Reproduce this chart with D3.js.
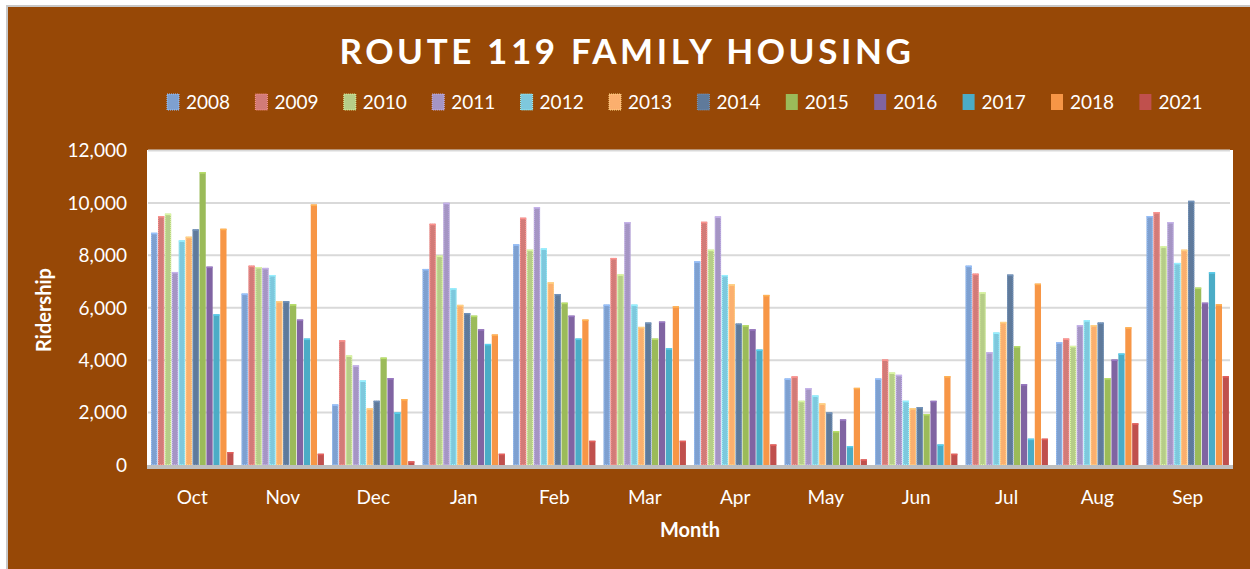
<!DOCTYPE html>
<html>
<head>
<meta charset="utf-8">
<script src="https://cdn.jsdelivr.net/npm/d3@7"></script>
<style>
  body { margin: 0; background: #fff; }
  text { font-family: Lato, "Open Sans", sans-serif; fill: #fff; }
</style>
</head>
<body>
<div id="chart"></div>
<script>
  // months on the x axis (fiscal year order)
  var months = ["Oct", "Nov", "Dec", "Jan", "Feb", "Mar", "Apr", "May", "Jun", "Jul", "Aug", "Sep"];
  var years = ["2008", "2009", "2010", "2011", "2012", "2013", "2014", "2015", "2016", "2017", "2018", "2021"];
  var colors = ["#7ea0d0", "#d27b78", "#b6cd88", "#a595c4", "#7ec8dd", "#fbaf6e", "#5f7a9b",
                "#9bbb59", "#8064a2", "#4bacc6", "#f79646", "#c0504d"];
  var yTicks = [0, 2000, 4000, 6000, 8000, 10000, 12000];

  // ridership per year, one value per month (Oct..Sep)
  var r2008 = [8860, 6540, 2310, 7480, 8420, 6120, 7770, 3300, 3300, 7605, 4685, 9500];
  var r2009 = [9500, 7605, 4760, 9205, 9435, 7900, 9280, 3380, 4025, 7300, 4825, 9650];
  var r2010 = [9590, 7555, 4180, 7990, 8215, 7275, 8215, 2450, 3530, 6590, 4545, 8345];
  var r2011 = [7365, 7520, 3800, 10005, 9840, 9270, 9485, 2935, 3440, 4305, 5335, 9270];
  var r2012 = [8570, 7250, 3225, 6745, 8265, 6120, 7250, 2655, 2450, 5055, 5525, 7710];
  var r2013 = [8710, 6250, 2160, 6110, 6970, 5270, 6895, 2350, 2170, 5460, 5335, 8215];
  var r2014 = [8990, 6250, 2450, 5800, 6525, 5435, 5395, 2005, 2210, 7265, 5435, 10080];
  var r2015 = [11175, 6135, 4100, 5700, 6195, 4825, 5335, 1295, 1945, 4535, 3315, 6770];
  var r2016 = [7570, 5550, 3315, 5180, 5700, 5475, 5180, 1740, 2450, 3085, 4025, 6195];
  var r2017 = [5750, 4825, 2005, 4620, 4825, 4455, 4405, 725, 785, 1005, 4255, 7355];
  var r2018 = [9015, 9940, 2515, 4980, 5550, 6055, 6490, 2945, 3390, 6920, 5255, 6135];
  var r2021 = [495, 430, 140, 430, 925, 925, 785, 215, 430, 1005, 1590, 3390];
  var series = [r2008, r2009, r2010, r2011, r2012, r2013, r2014, r2015, r2016, r2017, r2018, r2021];

  var W = 1250, H = 569;
  var svg = d3.select("#chart").append("svg").attr("width", W).attr("height", H);

  // frame: brown panel with thin grey edge at top/left
  svg.append("rect").attr("x", 0).attr("y", 0).attr("width", W).attr("height", H).attr("fill", "#ffffff");
  svg.append("rect").attr("x", 6).attr("y", 5).attr("width", W - 6).attr("height", H - 5).attr("fill", "#c8c8c8");
  svg.append("rect").attr("x", 8).attr("y", 7).attr("width", W - 8).attr("height", H - 7).attr("fill", "#974806");

  var plot = { left: 147, right: 1233, top: 150, bottom: 466 };

  svg.append("rect")
     .attr("x", plot.left).attr("y", plot.top)
     .attr("width", plot.right - plot.left).attr("height", plot.bottom - plot.top)
     .attr("fill", "#ffffff");

  var y = d3.scaleLinear().domain([0, 12000]).range([465, 150.5]);
  var x0 = d3.scaleBand().domain(months).range([plot.left, plot.right]).paddingInner(0.09).paddingOuter(0.045);
  var x1 = d3.scaleBand().domain(years).range([0, x0.bandwidth()]).paddingInner(0.1);

  // gridlines
  svg.append("g").selectAll("line").data(yTicks.slice(1)).join("line")
     .attr("x1", plot.left + 1).attr("x2", plot.right - 3)
     .attr("y1", function (d) { return y(d); }).attr("y2", function (d) { return y(d); })
     .attr("stroke", "#d9d9d9").attr("stroke-width", 2);

  // bars, grouped by month
  var rows = [];
  years.forEach(function (yr, i) {
    months.forEach(function (m, j) {
      rows.push({ year: yr, month: m, value: series[i][j], idx: i });
    });
  });

  var bars = svg.append("g");
  bars.selectAll("rect.bar").data(rows).join("rect")
      .attr("class", "bar")
      .attr("x", function (d) { return x0(d.month) + x1(d.year); })
      .attr("y", function (d) { return y(d.value); })
      .attr("width", x1.bandwidth())
      .attr("height", function (d) { return y(0) - y(d.value); })
      .attr("fill", function (d) { return colors[d.idx]; });

  // first seven series have a dotted bevel edge
  bars.selectAll("rect.edge").data(rows.filter(function (d) { return d.idx < 7; })).join("rect")
      .attr("class", "edge")
      .attr("x", function (d) { return x0(d.month) + x1(d.year) + 0.5; })
      .attr("y", function (d) { return y(d.value) + 0.5; })
      .attr("width", x1.bandwidth() - 1)
      .attr("height", function (d) { return Math.max(0, y(0) - y(d.value) - 1); })
      .attr("fill", "none")
      .attr("stroke", function (d) { return d3.color(colors[d.idx]).brighter(0.6); })
      .attr("stroke-width", 1)
      .attr("stroke-dasharray", "1,1");

  // light top cap
  bars.selectAll("rect.cap").data(rows).join("rect")
      .attr("class", "cap")
      .attr("x", function (d) { return x0(d.month) + x1(d.year); })
      .attr("y", function (d) { return y(d.value); })
      .attr("width", x1.bandwidth())
      .attr("height", 1.5)
      .attr("fill", function (d) { return d3.color(colors[d.idx]).brighter(0.5); });

  // x axis line
  svg.append("rect").attr("x", plot.left).attr("y", 465).attr("width", plot.right - plot.left).attr("height", 4)
     .attr("fill", "#bfbfbf");

  // y tick labels
  svg.append("g").selectAll("text").data(yTicks).join("text")
     .attr("x", 127).attr("y", function (d) { return y(d); })
     .attr("dy", "0.36em")
     .attr("text-anchor", "end")
     .style("font-size", "19px")
     .text(function (d) { return d3.format(",")(d); });

  // month labels
  svg.append("g").selectAll("text").data(months).join("text")
     .attr("x", function (d) { return x0(d) + x0.bandwidth() / 2; })
     .attr("y", 497).attr("dy", "0.36em")
     .attr("text-anchor", "middle")
     .style("font-size", "19px")
     .text(function (d) { return d; });

  // axis titles
  svg.append("text")
     .attr("x", 690).attr("y", 530).attr("dy", "0.36em")
     .attr("text-anchor", "middle")
     .style("font-size", "20px").style("font-weight", "bold")
     .text("Month");
  svg.append("text")
     .attr("transform", "translate(44,310) rotate(-90)")
     .attr("dy", "0.36em")
     .attr("text-anchor", "middle")
     .style("font-size", "20px").style("font-weight", "bold")
     .text("Ridership");

  // title
  svg.append("text")
     .attr("x", 627).attr("y", 64)
     .attr("text-anchor", "middle")
     .style("font-size", "35px").style("font-weight", "bold")
     .style("letter-spacing", "3.6px")
     .text("ROUTE 119 FAMILY HOUSING");

  // legend
  var legend = svg.append("g").selectAll("g").data(years).join("g")
     .attr("transform", function (d, i) { return "translate(" + (167 + i * 88.4) + ",94)"; });
  legend.append("rect")
     .attr("width", 12).attr("height", 16)
     .attr("fill", function (d, i) { return colors[i]; })
     .attr("stroke", function (d, i) { return i < 7 ? d3.color(colors[i]).brighter(0.6) : "none"; })
     .attr("stroke-dasharray", "1,1");
  legend.append("text")
     .attr("x", 19).attr("y", 8).attr("dy", "0.36em")
     .style("font-size", "19px")
     .text(function (d) { return d; });
</script>
</body>
</html>
